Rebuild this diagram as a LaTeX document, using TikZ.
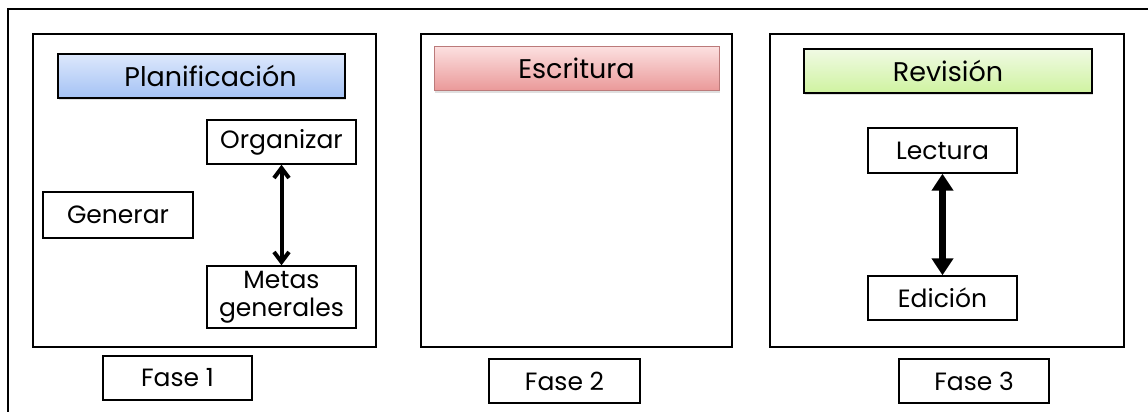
\documentclass[tikz,border=0pt]{standalone}
\usepackage{fontspec}
\setmainfont{Poppins}
\usetikzlibrary{arrows.meta,shadows}
\definecolor{blueT}{HTML}{DDE8FC}
\definecolor{blueB}{HTML}{A4C2F4}
\definecolor{redT}{HTML}{FCE0E0}
\definecolor{redB}{HTML}{EA9999}
\definecolor{greenT}{HTML}{F0FAE4}
\definecolor{greenB}{HTML}{CFF3A0}
\tikzset{
  frame/.style={draw, line width=1.4pt, inner sep=0pt},
  phasebox/.style={frame, minimum height=313pt},
  label/.style={frame, font=\fontsize{25}{28}\selectfont, align=center},
  header/.style={frame, line width=1.2pt, font=\fontsize{27}{30}\selectfont,
     minimum height=44pt, drop shadow={opacity=0.25, shadow xshift=1pt, shadow yshift=-2pt}},
  dblA/.style={{Straight Barb[length=10pt,width=15pt,line width=4pt]}-{Straight Barb[length=10pt,width=15pt,line width=4pt]}, line width=4pt},
  dblB/.style={{Triangle[length=17pt,width=21pt]}-{Triangle[length=17pt,width=21pt]}, line width=7pt},
}
\begin{document}
\begin{tikzpicture}[x=1pt,y=-1pt]
\useasboundingbox (0,0) rectangle (1148,412);
\coordinate (ob) at (8,415);
\coordinate (otl) at (8,9);
\coordinate (otr) at (1152,9);
\draw[line width=1.5pt] (ob) -- (otl) -- (otr);
% phase boxes
\node[phasebox, minimum width=343pt] (p1) at (204.5,190.5) {};
\node[phasebox, minimum width=311pt] (p2) at (576.5,190.5) {};
\node[phasebox, minimum width=354pt] (p3) at (947,190.5) {};
% headers
\node[header, minimum width=287pt, top color=blueT, bottom color=blueB] (h1) at (201.5,76) {\hspace*{18pt}Planificación};
\node[header, minimum width=285pt, line width=0.6pt, draw=redB!80!black, top color=redT, bottom color=redB] (h2) at (576.5,68.5) {Escritura};
\node[header, minimum width=288pt, top color=greenT, bottom color=greenB] (h3) at (948,71) {Revisión};
% phase 1 content
\node[label, minimum width=149pt, minimum height=44pt] (org) at (281.5,142) {Organizar};
\node[label, minimum width=150pt, minimum height=46pt] (gen) at (118,215) {Generar};
\node[label, minimum width=149pt, minimum height=62pt] (metas) at (281.5,297) {Metas\\generales};
\draw[dblA] (org) -- (metas);
% phase 3 content
\node[label, minimum width=149pt, minimum height=45pt] (lec) at (942.5,150.5) {Lectura};
\node[label, minimum width=149pt, minimum height=44pt] (edi) at (942.5,298) {Edición};
\draw[dblB] (lec) -- (edi);
% fase labels
\node[label, minimum width=149pt, minimum height=44pt] (f1) at (177.5,378) {Fase 1};
\node[label, minimum width=151pt, minimum height=44pt] (f2) at (564.5,381) {Fase 2};
\node[label, minimum width=150pt, minimum height=44pt] (f3) at (974,381) {Fase 3};
\end{tikzpicture}
\end{document}
